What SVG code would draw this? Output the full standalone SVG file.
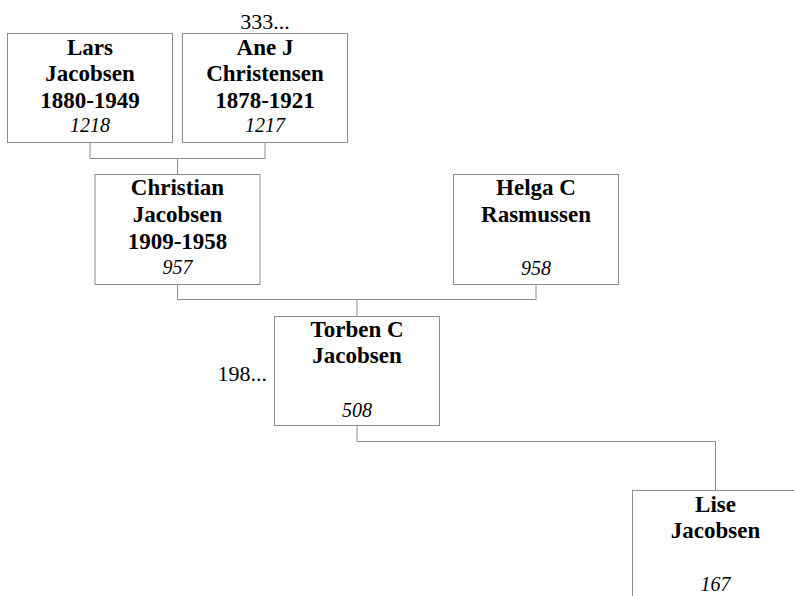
<svg xmlns="http://www.w3.org/2000/svg" width="794" height="596" viewBox="0 0 794 596">
<style>
.box{fill:#ffffff;stroke:#8c8c8c;stroke-width:1}
.ln{fill:none;stroke:#8c8c8c;stroke-width:1}
.nm{font-family:"Liberation Serif","Times New Roman",serif;font-weight:bold;font-size:23px;fill:#000;text-anchor:middle}
.id{font-family:"Liberation Serif","Times New Roman",serif;font-style:italic;font-size:20px;fill:#000;text-anchor:middle}
.nt{font-family:"Liberation Serif","Times New Roman",serif;font-size:22px;fill:#000}
</style>
<rect width="794" height="596" fill="#ffffff"/>
<g id="connectors">
<path class="ln" d="M90,142.5 V158.5 H265 V142.5 M177.5,158.5 V174.5"/>
<path class="ln" d="M177.5,284.5 V299.5 H536 V284.5 M357,299.5 V316.5"/>
<path class="ln" d="M357,425.5 V441.5 H715.5 V490.5"/>
</g>
<g id="lars">
<rect class="box" x="7.5" y="33.5" width="165" height="109"/>
<text class="nm" x="90" y="54.5">Lars</text>
<text class="nm" x="90" y="81">Jacobsen</text>
<text class="nm" x="90" y="107.5">1880-1949</text>
<text class="id" x="90" y="131.5">1218</text>
</g>
<g id="ane">
<text class="nt" x="265" y="29" text-anchor="middle">333...</text>
<rect class="box" x="182.5" y="33.5" width="165" height="109"/>
<text class="nm" x="265" y="54.5">Ane J</text>
<text class="nm" x="265" y="81">Christensen</text>
<text class="nm" x="265" y="107.5">1878-1921</text>
<text class="id" x="265" y="131.5">1217</text>
</g>
<g id="christian">
<rect class="box" x="95" y="174.5" width="165" height="110"/>
<text class="nm" x="177.5" y="195">Christian</text>
<text class="nm" x="177.5" y="221.5">Jacobsen</text>
<text class="nm" x="177.5" y="248.5">1909-1958</text>
<text class="id" x="177.5" y="274">957</text>
</g>
<g id="helga">
<rect class="box" x="453.5" y="174.5" width="165" height="110"/>
<text class="nm" x="536" y="195">Helga C</text>
<text class="nm" x="536" y="221.5">Rasmussen</text>
<text class="id" x="536" y="275">958</text>
</g>
<g id="torben">
<text class="nt" x="267" y="380.5" text-anchor="end">198...</text>
<rect class="box" x="274.5" y="316.5" width="165" height="109"/>
<text class="nm" x="357" y="337">Torben C</text>
<text class="nm" x="357" y="363">Jacobsen</text>
<text class="id" x="357" y="416.5">508</text>
</g>
<g id="lise">
<rect class="box" x="632.5" y="490.5" width="165" height="110"/>
<text class="nm" x="715.5" y="512">Lise</text>
<text class="nm" x="715.5" y="538">Jacobsen</text>
<text class="id" x="715.5" y="591">167</text>
</g>
</svg>
